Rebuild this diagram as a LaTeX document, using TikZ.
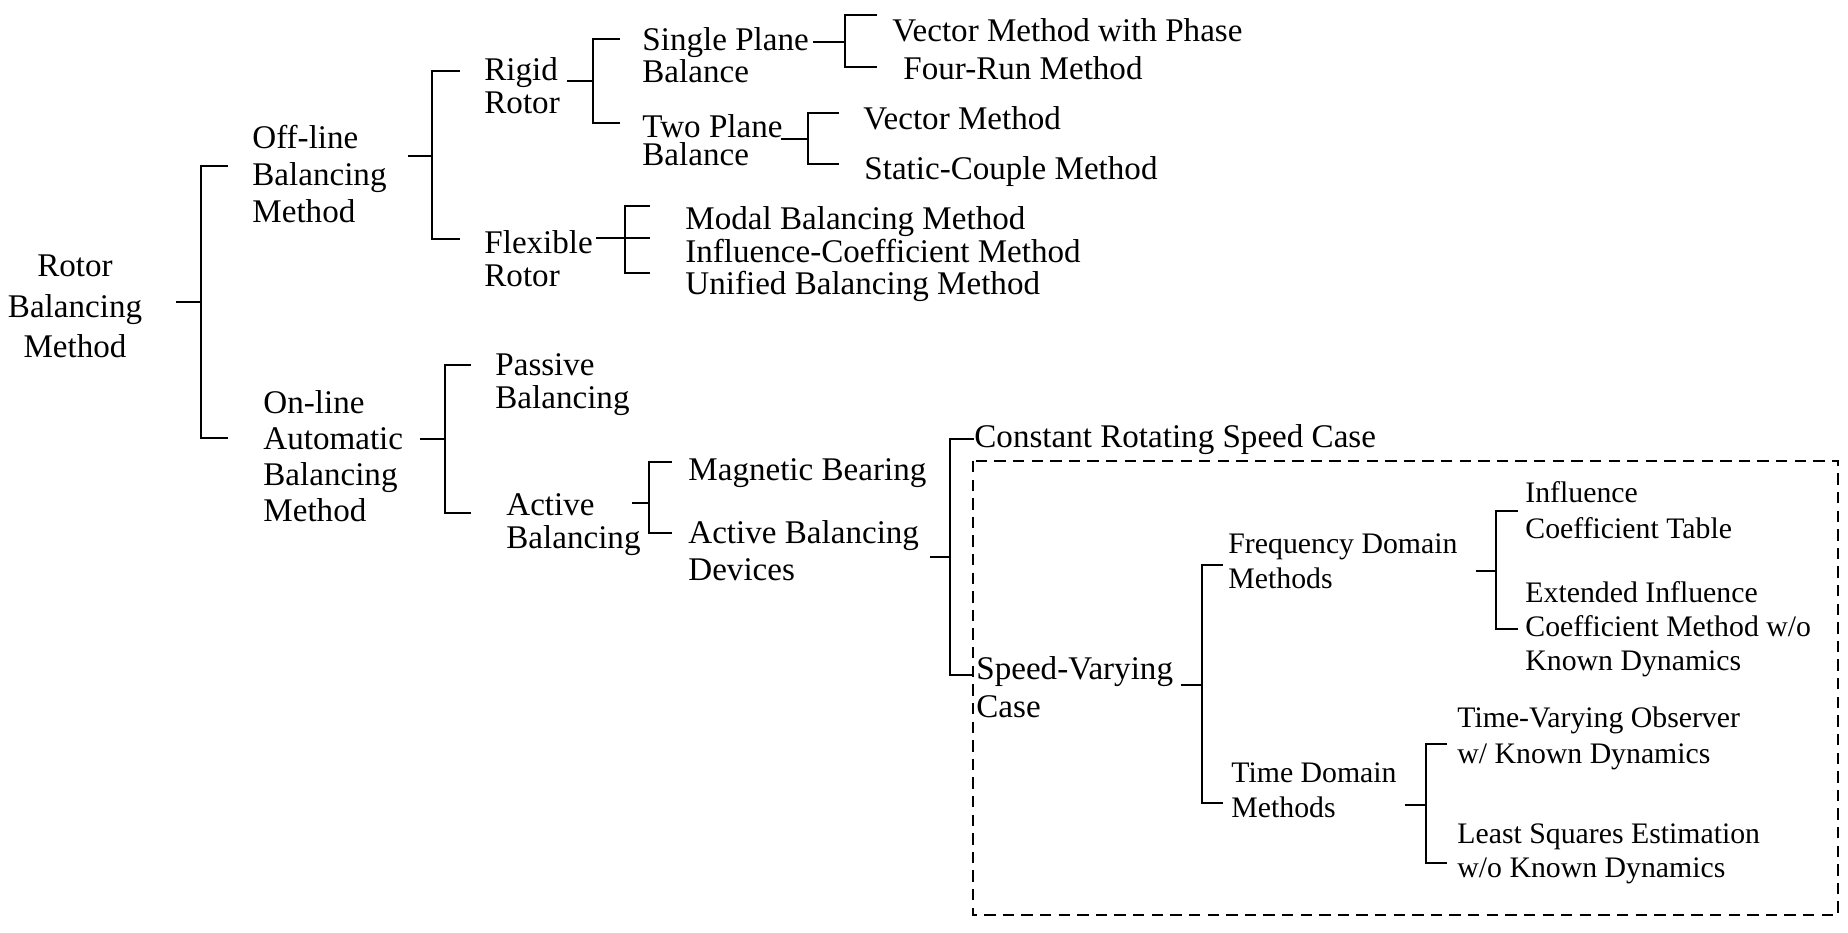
\documentclass[tikz,border=0pt]{standalone}
\usepackage{fontspec}
\setmainfont{Liberation Serif}
\tikzstyle{term} = [anchor=base west, align=left, inner sep=0pt, font=\fontsize{16}{16.4}\selectfont]
\tikzstyle{small} = [term, font=\fontsize{14.4}{16.9}\selectfont]
\tikzstyle{bracket} = [line width=0.9pt]
\tikzstyle{frame} = [line width=0.8pt, dash pattern=on 5.5pt off 3.5pt]
\newcommand{\ls}[1]{\fontsize{16}{#1}\selectfont}
\newcommand{\lss}[1]{\fontsize{14.4}{#1}\selectfont}

\begin{document}
\begin{tikzpicture}[x=0.017cm, y=-0.017cm]
\useasboundingbox (0,0) rectangle (1848,933);
\draw[frame] (973,461) rectangle (1838,915);

% first levels (base = last line)
\node[term, anchor=base, align=center, font=\ls{19.8}] (root) at (75,358) {Rotor\\Balancing\\Method};
\node[term, font=\ls{18.1}] (off) at (252,223) {Off-line\\Balancing\\Method};
\node[term, font=\ls{17.3}] (on) at (263,521) {On-line\\Automatic\\Balancing\\Method};
\node[term] (rigid) at (484,114) {Rigid\\Rotor};
\node[term] (flex) at (484,287) {Flexible\\Rotor};
\node[term, font=\ls{14}] (single) at (642,83) {Single Plane\\Balance};
\node[term, font=\ls{14}] (two) at (642,166) {Two Plane\\Balance};
\node[term] (vmp) at (892,42) {Vector Method with Phase};
\node[term] (fourrun) at (903,80) {Four-Run Method};
\node[term] (vm) at (863,130) {Vector Method};
\node[term] (sc) at (864,180) {Static-Couple Method};
\node[term] (modal) at (685,230) {Modal Balancing Method};
\node[term] (icm) at (685,263) {Influence-Coefficient Method};
\node[term] (ubm) at (685,295) {Unified Balancing Method};
\node[term] (passive) at (495,409) {Passive\\Balancing};
\node[term, font=\ls{15.9}] (active) at (506,548) {Active\\Balancing};
\node[term] (mag) at (688,480) {Magnetic Bearing};
\node[term, font=\ls{17.8}] (abd) at (688,580) {Active Balancing\\Devices};
\node[term] (const) at (974,447) {Constant Rotating Speed Case};
\node[term, font=\ls{18.3}] (speed) at (976,717) {Speed-Varying\\Case};

% inside the dashed frame
\node[small] (freq) at (1228,588) {Frequency Domain\\Methods};
\node[small, font=\lss{17.3}] (ict) at (1525,538) {Influence\\Coefficient Table};
\node[small, font=\lss{16.4}] (eic) at (1525,670) {Extended Influence\\Coefficient Method w/o\\Known Dynamics};
\node[small] (timed) at (1231,817) {Time Domain\\Methods};
\node[small, font=\lss{17.3}] (tvo) at (1457,763) {Time-Varying Observer\\w/ Known Dynamics};
\node[small, font=\lss{16.4}] (lse) at (1457,877) {Least Squares Estimation\\w/o Known Dynamics};

% brackets
\draw[bracket] ([shift={(101,-56)}]root.base) -- ++(25,0) coordinate (j0);
\draw[bracket] ([shift={(-24,-57)}]off.base west) -| (j0) |- ([shift={(-35,-83)}]on.base west);
\draw[bracket] ([shift={(156,-67)}]off.base west) -- ++(24,0) coordinate (j1);
\draw[bracket] ([shift={(-24,-43)}]rigid.base west) -| (j1) |- ([shift={(-24,-48)}]flex.base west);
\draw[bracket] ([shift={(157,-82)}]on.base west) -- ++(25,0) coordinate (j2);
\draw[bracket] ([shift={(-24,-44)}]passive.base west) -| (j2) |- ([shift={(-35,-35)}]active.base west);
\draw[bracket] ([shift={(83,-33)}]rigid.base west) -- ++(26,0) coordinate (j3);
\draw[bracket] ([shift={(-22,-44)}]single.base west) -| (j3) |- ([shift={(-22,-43)}]two.base west);
\draw[bracket] ([shift={(112,-49)}]flex.base west) -- ++(29,0) coordinate (j4);
\draw[bracket] ([shift={(-35,-24)}]modal.base west) -| (j4) |- ([shift={(-35,-22)}]ubm.base west);
\draw[bracket] (j4) -- ([shift={(-35,-25)}]icm.base west);
\draw[bracket] ([shift={(171,-41)}]single.base west) -- ++(32,0) coordinate (j5);
\draw[bracket] ([shift={(-15,-27)}]vmp.base west) -| (j5) |- ([shift={(-26,-13)}]fourrun.base west);
\draw[bracket] ([shift={(139,-27)}]two.base west) -- ++(27,0) coordinate (j6);
\draw[bracket] ([shift={(-24,-17)}]vm.base west) -| (j6) |- ([shift={(-25,-16)}]sc.base west);
\draw[bracket] ([shift={(126,-45)}]active.base west) -- ++(17,0) coordinate (j7);
\draw[bracket] ([shift={(-16,-18)}]mag.base west) -| (j7) |- ([shift={(-16,-47)}]abd.base west);
\draw[bracket] ([shift={(242,-23)}]abd.base west) -- ++(20,0) coordinate (j8);
\draw[bracket] ([shift={(0,-8)}]const.base west) -| (j8) |- ([shift={(-2,-42)}]speed.base west);
\draw[bracket] ([shift={(205,-32)}]speed.base west) -- ++(21,0) coordinate (j9);
\draw[bracket] ([shift={(-5,-23)}]freq.base west) -| (j9) |- ([shift={(-8,-14)}]timed.base west);
\draw[bracket] ([shift={(248,-17)}]freq.base west) -- ++(20,0) coordinate (j10);
\draw[bracket] ([shift={(-7,-27)}]ict.base west) -| (j10) |- ([shift={(-7,-41)}]eic.base west);
\draw[bracket] ([shift={(174,-12)}]timed.base west) -- ++(21,0) coordinate (j11);
\draw[bracket] ([shift={(-10,-19)}]tvo.base west) -| (j11) |- ([shift={(-10,-14)}]lse.base west);
\end{tikzpicture}
\end{document}
